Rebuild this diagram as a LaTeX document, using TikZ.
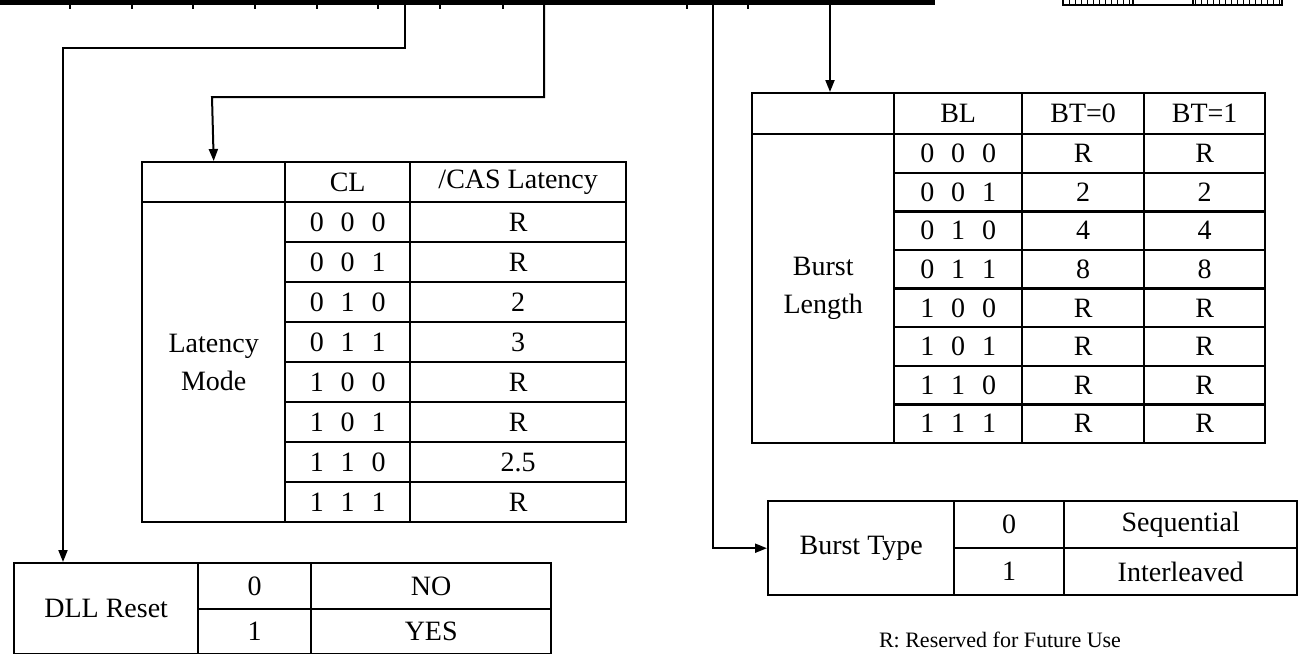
\documentclass[tikz,border=0pt]{standalone}
\usepackage{fontspec}
\setmainfont{Liberation Serif}
\usetikzlibrary{arrows.meta, patterns}

\newcommand\threebit[3]{#1\hspace{0.6em}#2\hspace{0.6em}#3}

\begin{document}
\begin{tikzpicture}[x=0.5pt, y=-0.5pt,
		cell/.style 2 args={draw, line width=1.2pt, anchor=north west, inner sep=0pt,
			minimum width={(#1)*0.5pt}, minimum height={(#2)*0.5pt}, align=center,
			font=\fontsize{14}{19}\selectfont},
		conn/.style={-{Triangle[length=6pt, width=4.5pt]}, line width=1pt},
		note/.style={font=\fontsize{11}{13}\selectfont},
		]
		\useasboundingbox (0,0) rectangle (1298,654);

		% Register bar
		\fill (0,-2) rectangle (935,5);
		\foreach \x in {70,132,193,255,317,378,440,503,687,748}
			\draw[line width=1pt] (\x,5) -- (\x,9);
		\draw[line width=0.6pt, pattern=vertical lines] (1063,-2) rectangle (1133,5);
		\draw[line width=0.6pt] (1133,-2) rectangle (1193,5);
		\draw[line width=0.6pt, pattern=vertical lines] (1193,-2) rectangle (1282,5);

		\coordinate (dllbit) at (405,5);
		\coordinate (clbit) at (544,5);
		\coordinate (btbit) at (713,5);
		\coordinate (blbit) at (830,5);
		\coordinate (dllturn) at (63,48);
		\coordinate (clturn) at (212,97);

		% CAS latency table
		\node[cell={143}{40}] (clh) at (141,161) {};
		\node[cell={125}{40}] (clhb) at (284,161) {CL};
		\node[cell={216}{40}] (clhv) at (409,161) {/CAS Latency};
		\node[cell={143}{320}] (clmode) at (141,201) {Latency\\Mode};
		\foreach \bits/\lat [count=\i from 0] in {000/R,001/R,010/2,011/3,100/R,101/R,110/2.5,111/R} {
			\node[cell={125}{40}] (cl\i) at (284,{201+40*\i}) {\expandafter\threebit\bits};
			\node[cell={216}{40}] (clv\i) at (409,{201+40*\i}) {\lat};
		}

		% Burst length table
		\node[cell={142}{41}] (blh) at (751,92) {};
		\node[cell={128}{41}] (blhb) at (893,92) {BL};
		\node[cell={122}{41}] (blhz) at (1021,92) {BT=0};
		\node[cell={121}{41}] (blho) at (1143,92) {BT=1};
		\node[cell={142}{309}] (blmode) at (751,133) {Burst\\Length};
		\foreach \bits/\len [count=\i from 0] in {000/R,001/2,010/4,011/8,100/R,101/R,110/R,111/R} {
			\node[cell={128}{38.6}] (bl\i) at (893,{133+38.6*\i}) {\expandafter\threebit\bits};
			\node[cell={122}{38.6}] (blz\i) at (1021,{133+38.6*\i}) {\len};
			\node[cell={121}{38.6}] (blo\i) at (1143,{133+38.6*\i}) {\len};
		}

		% Burst type table
		\node[cell={186}{94}] (bt) at (767,500) {Burst Type};
		\node[cell={110}{47}] (btz) at (953,500) {0};
		\node[cell={233}{47}] (btzv) at (1063,500) {Sequential};
		\node[cell={110}{47}] (bto) at (953,547) {1};
		\node[cell={233}{47}] (btov) at (1063,547) {Interleaved};

		% DLL reset table
		\node[cell={184}{91}] (dll) at (13,562) {DLL Reset};
		\node[cell={113}{46}] (dllz) at (197,562) {0};
		\node[cell={240}{46}] (dllzv) at (310,562) {NO};
		\node[cell={113}{45}] (dllo) at (197,608) {1};
		\node[cell={240}{45}] (dllov) at (310,608) {YES};

		\node[note] (reserved) at (1000,640) {R: Reserved for Future Use};

		% Arrows
		\draw[conn] (dllbit) |- (dllturn) -- (dllturn |- dll.north);
		\draw[conn] (clbit) |- (clturn) -- (clh.north);
		\draw[conn] (btbit) |- (bt.west);
		\draw[conn] (blbit) -- (blbit |- blh.north);
	\end{tikzpicture}
\end{document}
